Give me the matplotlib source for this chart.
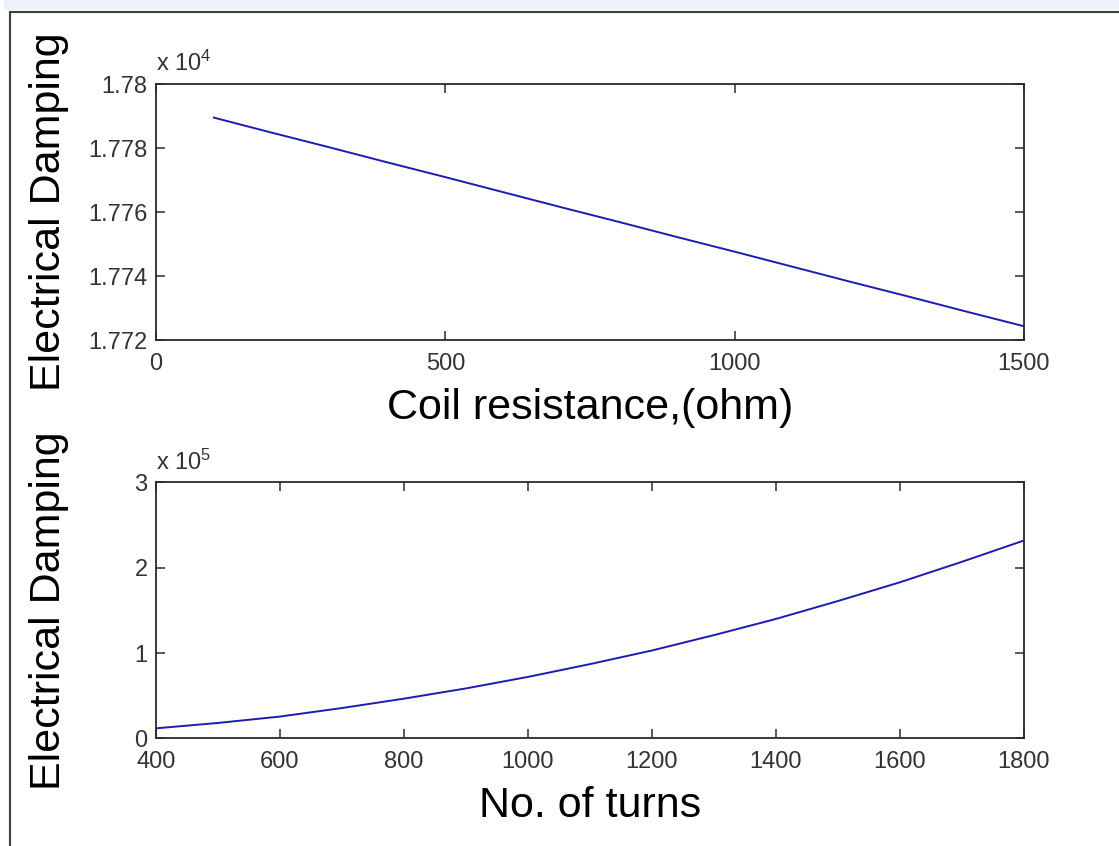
import matplotlib
matplotlib.use("Agg")
import matplotlib.pyplot as plt
from matplotlib.lines import Line2D
from matplotlib.patches import Rectangle
from matplotlib.ticker import FuncFormatter

plt.rcParams['font.family'] = ['Liberation Sans', 'DejaVu Sans']
plt.rcParams['mathtext.fontset'] = 'custom'
plt.rcParams['mathtext.rm'] = 'Liberation Sans'
plt.rcParams['mathtext.default'] = 'regular'

# values
coil_resistance = [100, 200, 300, 400, 500, 600, 700, 800, 900, 1000, 1100, 1200, 1300, 1400, 1500]
damping_r = [17789.5, 17784.8, 17780.2, 17775.5, 17770.9, 17766.2, 17761.5, 17756.9,
             17752.2, 17747.6, 17742.9, 17738.2, 17733.6, 17728.9, 17724.3]

turns = [400, 500, 600, 700, 800, 900, 1000, 1100, 1200, 1300, 1400, 1500, 1600, 1700, 1800]
damping_n = [0.117e5, 0.18e5, 0.255e5, 0.355e5, 0.465e5, 0.585e5, 0.72e5, 0.87e5,
             1.03e5, 1.21e5, 1.40e5, 1.61e5, 1.83e5, 2.07e5, 2.32e5]

line_color = '#1c1cb0'
edge = '#2a2a2a'

fig = plt.figure(figsize=(11.19, 8.46), dpi=100)

# window frame like the matlab screenshot
fig.patches.append(Rectangle((0.004, 1 - 10 / 846), 0.996, 10 / 846, transform=fig.transFigure,
                             facecolor='#edf1f9', edgecolor='none', zorder=0))
fig.add_artist(Line2D([10 / 1119, 10 / 1119], [0, 1 - 12 / 846], transform=fig.transFigure,
                      color='#404040', lw=1.5))
fig.add_artist(Line2D([10 / 1119, 1], [1 - 12 / 846, 1 - 12 / 846], transform=fig.transFigure,
                      color='#404040', lw=1.5))

ax1 = fig.add_axes([0.1394, 0.5981, 0.7757, 0.3026])
ax2 = fig.add_axes([0.1394, 0.1273, 0.7757, 0.3024])

ax1.plot(coil_resistance, damping_r, color=line_color, lw=1.4)
ax1.set_xlim(0, 1500)
ax1.set_ylim(17720, 17800)
ax1.set_xticks([0, 500, 1000, 1500])
ax1.set_yticks([17720, 17740, 17760, 17780, 17800])
ax1.yaxis.set_major_formatter(FuncFormatter(lambda v, p: f'{v / 1e4:g}'))
ax1.set_xlabel('Coil resistance,(ohm)', fontsize=31)
ax1.set_ylabel('Electrical Damping', fontsize=31)
ax1.text(0.0, 1.03, r'x 10$^{4}$', transform=ax1.transAxes, fontsize=17, color='#333333',
         ha='left', va='bottom')

ax2.plot(turns, damping_n, color=line_color, lw=1.4)
ax2.set_xlim(400, 1800)
ax2.set_ylim(0, 3e5)
ax2.set_xticks(range(400, 1801, 200))
ax2.set_yticks([0, 1e5, 2e5, 3e5])
ax2.yaxis.set_major_formatter(FuncFormatter(lambda v, p: f'{v / 1e5:g}'))
ax2.set_xlabel('No. of turns', fontsize=31)
ax2.set_ylabel('Electrical Damping', fontsize=31)
ax2.text(0.0, 1.03, r'x 10$^{5}$', transform=ax2.transAxes, fontsize=17, color='#333333',
         ha='left', va='bottom')

for ax in (ax1, ax2):
    for s in ax.spines.values():
        s.set_color(edge)
        s.set_linewidth(1.3)
    ax.tick_params(direction='in', length=6.5, width=1.1, color=edge, top=True, right=True,
                   labelsize=17, labelcolor='#333333')
    ax.tick_params(axis='x', pad=9.5)
    ax.tick_params(axis='y', pad=6.0)
    ax.xaxis.set_label_coords(0.5, -0.188)
    ax.yaxis.set_label_coords(-0.1002, 0.5)

fig.savefig('out.png', dpi=100)
